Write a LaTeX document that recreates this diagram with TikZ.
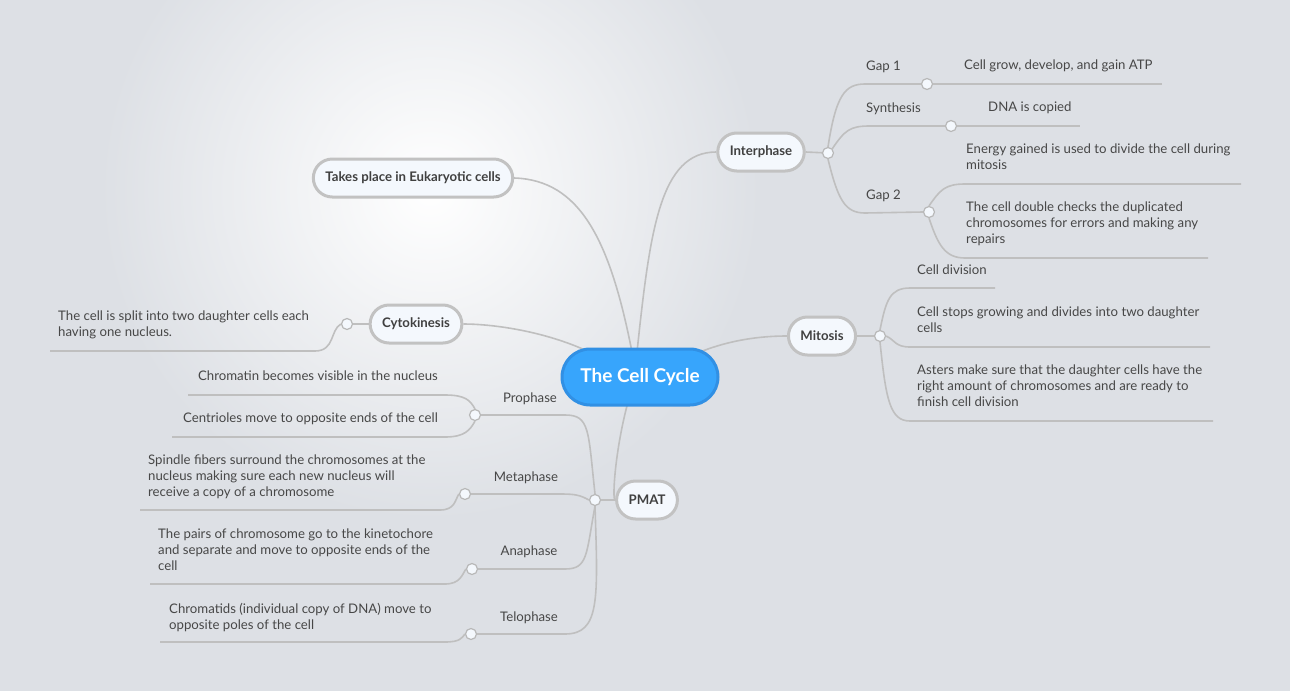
\documentclass[tikz,border=0pt]{standalone}
\usepackage{fontspec}
\setmainfont{Lato}
\definecolor{bg}{HTML}{DDE0E5}
\definecolor{cfill}{HTML}{37A5FC}
\definecolor{cdraw}{HTML}{3190E4}
\definecolor{tfill}{HTML}{F4F8FD}
\begin{document}
\begin{tikzpicture}[x=1pt,y=-1pt,
  every node/.style={inner sep=0pt},
  txt/.style={font=\fontsize{13.2}{16}\selectfont, text=black!72, align=left, anchor=north west, yshift=-3pt},
  lbl/.style={font=\fontsize{13.2}{16}\selectfont, text=black!72, yshift=-2pt},
  topic/.style={draw=black!24, line width=3pt, fill=tfill, rounded corners=19pt, minimum height=38pt, inner xsep=12pt, font=\bfseries\fontsize{13.2}{15}\selectfont, text=black!75},
  dot/.style={circle, draw=black!28, fill=tfill, line width=1.2pt, minimum size=11pt},
  ln/.style={draw=black!25, line width=1.6pt}]
\useasboundingbox (0,0) rectangle (1290,691);
\fill[bg] (0,0) rectangle (1290,691);
\begin{scope}
\clip (0,0) rectangle (1290,691);
\shade[inner color=white, outer color=bg] (430,190) circle (330);
\end{scope}

% main topics
\node[topic] (inter) at (761,152) {Interphase};
\node[topic] (takes) at (413,178) {Takes place in Eukaryotic cells};
\node[topic] (cyto) at (416,324) {Cytokinesis};
\node[topic] (mit) at (822,336) {Mitosis};
\node[topic] (pmat) at (647,500) {PMAT};

% connectors from center
\coordinate (c1) at (637,352);
\draw[ln] (c1) .. controls (650,230) and (660,152) .. (inter.west);
\draw[ln] (632,352) .. controls (610,240) and (580,180) .. (takes.east);
\draw[ln] (585,350) .. controls (540,330) and (490,324) .. (cyto.east);
\draw[ln] (700,352) .. controls (730,340) and (760,336) .. (mit.west);
\draw[ln] (628,402) .. controls (615,450) and (612,500) .. (pmat.west);

\node[draw=cdraw, fill=cfill, line width=3pt, rounded corners=28pt, minimum width=156pt, minimum height=56pt, text=white, font=\bfseries\fontsize{19}{22}\selectfont] (center) at (640,377) {The Cell Cycle};

% Interphase
\node[dot] (ic) at (828,153) {};
\draw[ln] (inter.east) -- (ic);
\node[dot] (g1) at (927,84) {};
\node[dot] (sy) at (951,126) {};
\node[dot] (g2) at (929,212) {};
\draw[ln] (ic.north) .. controls (836,95) and (845,84) .. (865,84) -- (g1.west);
\draw[ln] (g1.east) -- (1162,84);
\draw[ln] (ic.north east) .. controls (845,130) and (850,126) .. (870,126) -- (sy.west);
\draw[ln] (sy.east) -- (1080,126);
\draw[ln] (ic.south) .. controls (838,200) and (845,213) .. (865,213) -- (g2.west);
\node[lbl, anchor=west] at (866,65) {Gap 1};
\node[lbl, anchor=west] at (866,107) {Synthesis};
\node[lbl, anchor=west] at (866,194) {Gap 2};
\node[txt] at (964,57) {Cell grow, develop, and gain ATP};
\node[txt] at (988,99) {DNA is copied};
\draw[ln] (g2.north) .. controls (940,190) and (945,184) .. (965,184) -- (1241,184);
\draw[ln] (g2.south) .. controls (938,245) and (945,258) .. (965,258) -- (1208,258);
\node[txt] at (966,141) {Energy gained is used to divide the cell during\\mitosis};
\node[txt] at (966,199) {The cell double checks the duplicated\\chromosomes for errors and making any\\repairs};

% Mitosis
\node[dot] (mc) at (880,336) {};
\draw[ln] (mit.east) -- (mc);
\draw[ln] (mc.north) .. controls (886,300) and (890,288) .. (910,288) -- (995,288);
\draw[ln] (mc.east) .. controls (895,340) and (895,347) .. (910,347) -- (1210,347);
\draw[ln] (mc.south) .. controls (886,400) and (890,421) .. (910,421) -- (1213,421);
\node[txt] at (917,262) {Cell division};
\node[txt] at (917,304) {Cell stops growing and divides into two daughter\\cells};
\node[txt] at (917,362) {Asters make sure that the daughter cells have the\\right amount of chromosomes and are ready to\\finish cell division};

% Cytokinesis
\node[dot] (cc) at (347,324) {};
\draw[ln] (cyto.west) -- (cc);
\draw[ln] (cc.west) .. controls (330,330) and (335,351) .. (315,351) -- (50,351);
\node[txt] at (58,308) {The cell is split into two daughter cells each\\having one nucleus.};

% PMAT
\node[dot] (pc) at (595,500) {};
\draw[ln] (pmat.west) -- (pc);
\node[dot] (pro) at (475,415) {};
\node[dot] (met) at (465,494) {};
\node[dot] (ana) at (472,569) {};
\node[dot] (tel) at (471,634) {};
\draw[ln] (pc.north) .. controls (588,430) and (590,415) .. (565,415) -- (pro.east);
\draw[ln] (pc.west) .. controls (580,495) and (575,494) .. (560,494) -- (met.east);
\draw[ln] (pc.south) .. controls (586,555) and (588,569) .. (565,569) -- (ana.east);
\draw[ln] (pc.south) .. controls (598,600) and (600,634) .. (565,634) -- (tel.east);
\node[lbl] at (530,397) {Prophase};
\node[lbl] at (526,476) {Metaphase};
\node[lbl] at (529,550) {Anaphase};
\node[lbl] at (529,616) {Telophase};
\draw[ln] (pro.north) .. controls (470,400) and (465,395) .. (445,395) -- (188,395);
\draw[ln] (pro.south) .. controls (470,430) and (465,437) .. (445,437) -- (172,437);
\node[txt, anchor=north east, align=right] at (438,368) {Chromatin becomes visible in the nucleus};
\node[txt, anchor=north east, align=right] at (438,410) {Centrioles move to opposite ends of the cell};
\draw[ln] (met.west) .. controls (455,500) and (455,510) .. (440,510) -- (140,510);
\node[txt] at (148,452) {Spindle fibers surround the chromosomes at the\\nucleus making sure each new nucleus will\\receive a copy of a chromosome};
\draw[ln] (ana.west) .. controls (462,575) and (460,584) .. (445,584) -- (150,584);
\node[txt] at (158,526) {The pairs of chromosome go to the kinetochore\\and separate and move to opposite ends of the\\cell};
\draw[ln] (tel.west) .. controls (462,638) and (460,642) .. (445,642) -- (160,642);
\node[txt] at (169,600) {Chromatids (individual copy of DNA) move to\\opposite poles of the cell};
\end{tikzpicture}
\end{document}
